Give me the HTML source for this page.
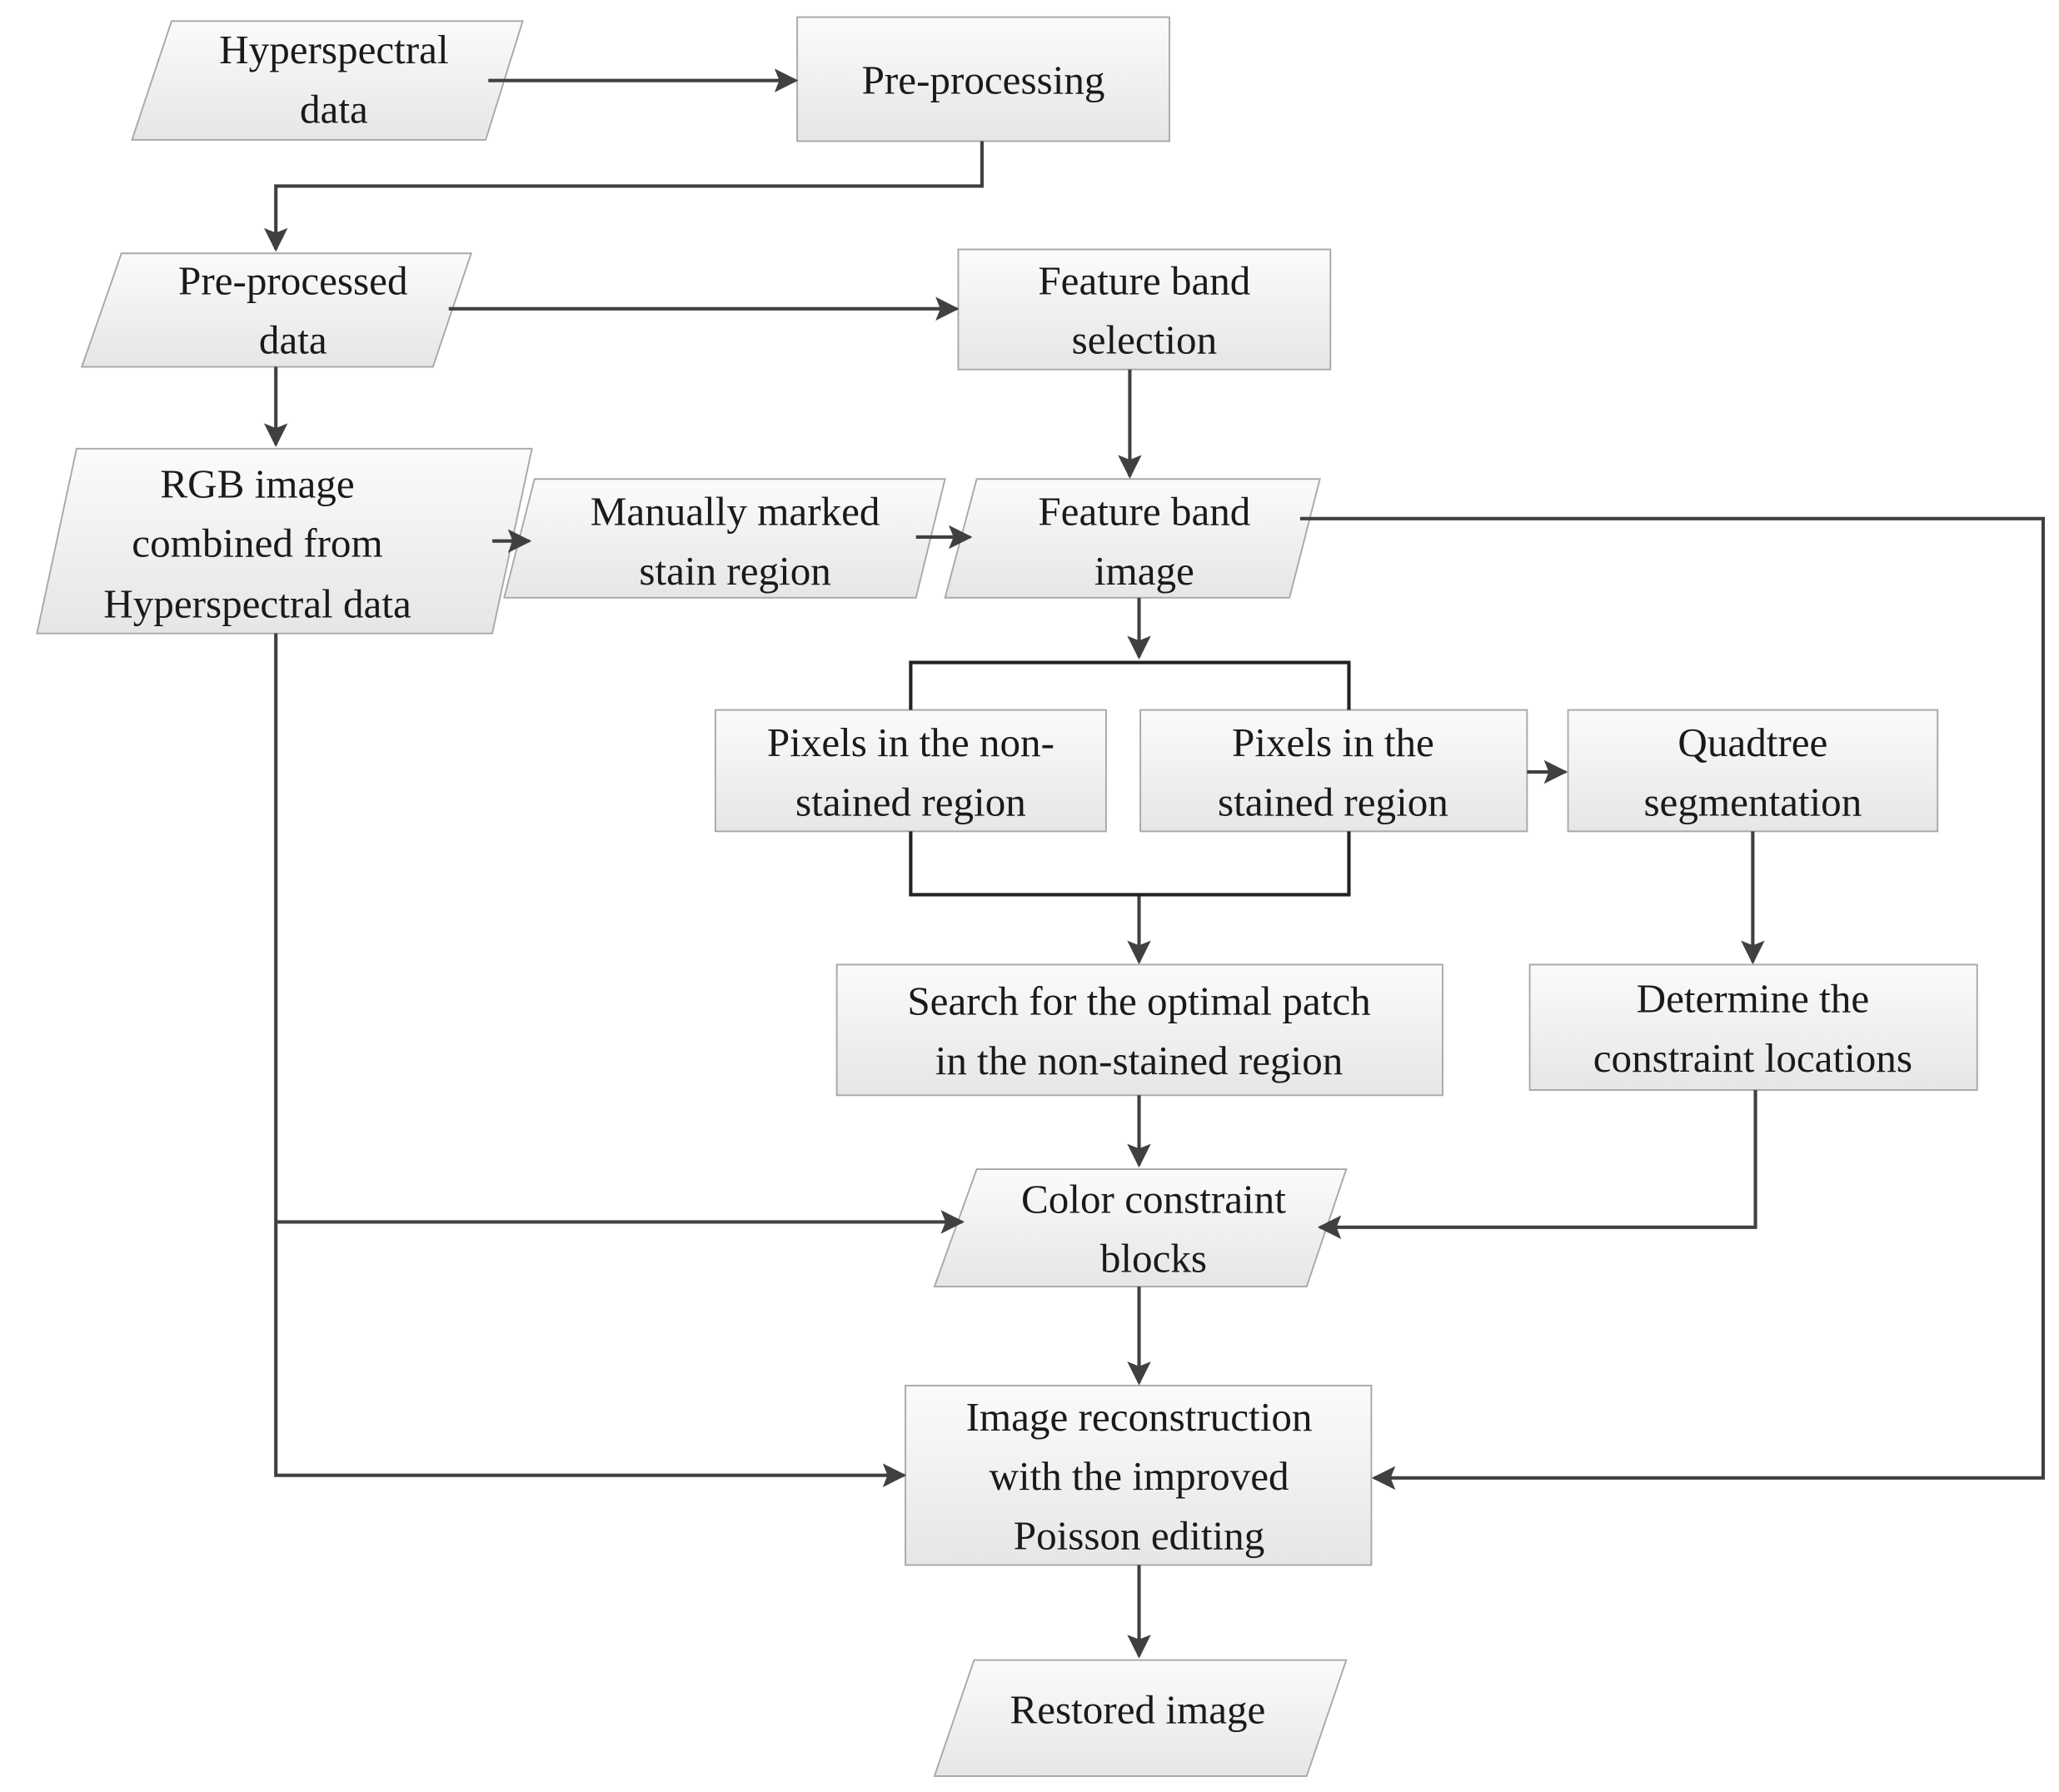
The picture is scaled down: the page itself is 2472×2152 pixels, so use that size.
<!DOCTYPE html>
<html><head><meta charset="utf-8"><style>
html,body{margin:0;padding:0;background:#fff;}
svg{display:block;}
text{font-family:"Liberation Serif",serif;font-size:31px;fill:#1a1a1a;text-anchor:middle;}
</style></head><body>
<svg width="2472" height="2152" viewBox="0 0 1560 1358" preserveAspectRatio="none" xmlns="http://www.w3.org/2000/svg">
<defs>
<linearGradient id="g" x1="0" y1="0" x2="0" y2="1"><stop offset="0" stop-color="#fbfbfb"/><stop offset="1" stop-color="#e6e6e6"/></linearGradient>
<marker id="a" markerWidth="10" markerHeight="10" refX="9" refY="5" orient="auto" markerUnits="userSpaceOnUse"><path d="M0,0 L10,5 L0,10 Z" fill="#404040"/></marker>
<marker id="b" viewBox="0 0 10 10" markerWidth="22" markerHeight="18" refX="9" refY="5" orient="auto" markerUnits="userSpaceOnUse"><path d="M0,0 L10,5 L0,10 L2,5 Z" fill="#404040"/></marker>
</defs>
<g fill="url(#g)" stroke="#a8a8a8" stroke-width="1.2">
<polygon points="130,16 396,16 368,106 100,106"/>
<rect x="604" y="13" width="282" height="94"/>
<polygon points="92,192 357,192 328,278 62,278"/>
<rect x="726" y="189" width="282" height="91"/>
<polygon points="58,340 403,340 373,480 28,480"/>
<polygon points="405,363 716,363 694,453 382,453"/>
<polygon points="740,363 1000,363 977,453 716,453"/>
<rect x="542" y="538" width="296" height="92"/>
<rect x="864" y="538" width="293" height="92"/>
<rect x="1188" y="538" width="280" height="92"/>
<rect x="634" y="731" width="459" height="99"/>
<rect x="1159" y="731" width="339" height="95"/>
<polygon points="740,886 1020,886 990,975 708,975"/>
<rect x="686" y="1050" width="353" height="136"/>
<polygon points="738,1258 1020,1258 990,1346 708,1346"/>
</g>
<g fill="none" stroke="#404040" stroke-width="2.6" marker-end="url(#b)">
<path d="M370,61 H603"/>
<path d="M744,107 V141 H209 V189"/>
<path d="M340,234 H725"/>
<path d="M856,280 V361"/>
<path d="M209,278 V337"/>
<path d="M373,410 H401"/>
<path d="M694,407 H735"/>
<path d="M985,393 H1548 V1120 H1041"/>
<path d="M863,453 V498"/>
<path d="M863,678 V729"/>
<path d="M1157,585 H1186"/>
<path d="M1328,630 V729"/>
<path d="M863,830 V883"/>
<path d="M1330,826 V930 H1000"/>
<path d="M209,480 V1118 H685"/>
<path d="M209,926 H729"/>
<path d="M863,975 V1048"/>
<path d="M863,1186 V1255"/>
</g>
<g fill="none" stroke="#222" stroke-width="2.6">
<path d="M690,538 V502 H1022 V538"/>
<path d="M690,630 V678 H1022 V630"/>
</g>
<text x="253" y="48">Hyperspectral</text>
<text x="253" y="93">data</text>
<text x="745" y="71">Pre-processing</text>
<text x="222" y="223">Pre-processed</text>
<text x="222" y="268">data</text>
<text x="867" y="223">Feature band</text>
<text x="867" y="268">selection</text>
<text x="195" y="377">RGB image</text>
<text x="195" y="422">combined from</text>
<text x="195" y="468">Hyperspectral data</text>
<text x="557" y="398">Manually marked</text>
<text x="557" y="443">stain region</text>
<text x="867" y="398">Feature band</text>
<text x="867" y="443">image</text>
<text x="690" y="573">Pixels in the non-</text>
<text x="690" y="618">stained region</text>
<text x="1010" y="573">Pixels in the</text>
<text x="1010" y="618">stained region</text>
<text x="1328" y="573">Quadtree</text>
<text x="1328" y="618">segmentation</text>
<text x="863" y="769">Search for the optimal patch</text>
<text x="863" y="814">in the non-stained region</text>
<text x="1328" y="767">Determine the</text>
<text x="1328" y="812">constraint locations</text>
<text x="874" y="919">Color constraint</text>
<text x="874" y="964">blocks</text>
<text x="863" y="1084">Image reconstruction</text>
<text x="863" y="1129">with the improved</text>
<text x="863" y="1174">Poisson editing</text>
<text x="862" y="1306">Restored image</text>
</svg>
</body></html>
